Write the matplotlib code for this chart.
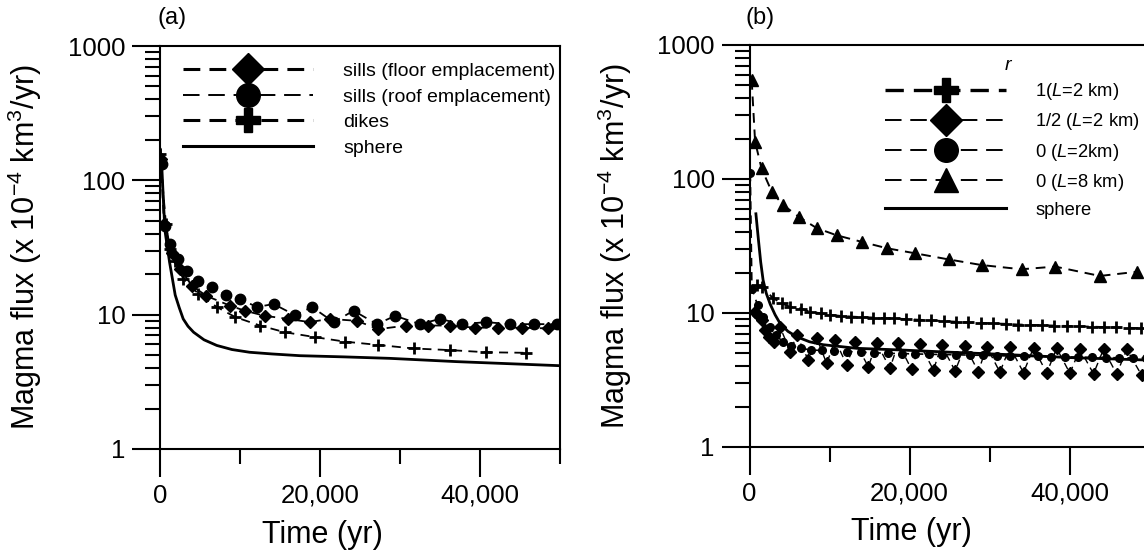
import numpy as np
import matplotlib
matplotlib.use("Agg")
import matplotlib.pyplot as plt
from matplotlib.lines import Line2D
from matplotlib.ticker import FixedLocator, FuncFormatter, LogLocator, NullFormatter

plt.rcParams["font.family"] = ["Liberation Sans", "DejaVu Sans"]
plt.rcParams["mathtext.fontset"] = "custom"
plt.rcParams["mathtext.rm"] = "Liberation Sans"
plt.rcParams["mathtext.it"] = "Liberation Sans:italic"

# ---- panel (a): sills / dikes / sphere ----
sphere_a_t = [0, 200, 600, 1200, 1900, 2400, 2900, 3500, 4200, 5500, 7100, 9000,
              11200, 14000, 17500, 23000, 28700, 37100, 50000]
sphere_a_v = [170, 136, 43, 24.5, 14, 11.3, 9.3, 8.2, 7.4, 6.5, 5.9, 5.5,
              5.25, 5.1, 4.95, 4.85, 4.73, 4.47, 4.17]

dikes_t = [0, 750, 1250, 1900, 2900, 4800, 7100, 9400, 12500, 15600, 19400,
           23100, 27300, 31700, 36200, 40800, 45800]
dikes_v = [157, 47, 31, 25, 18.5, 14.3, 11.4, 9.6, 8.3, 7.4, 6.8,
           6.3, 5.95, 5.6, 5.45, 5.25, 5.2]

roof_t = [200, 600, 1300, 2300, 3400, 4800, 6500, 8300, 10000, 12100, 14200, 16900,
          19000, 21700, 24200, 27100, 29400, 32500, 35000, 37700, 40800, 43700, 46700, 49600]
roof_v = [132, 46, 33.6, 26, 21.3, 17.9, 16, 14, 13.1, 11.4, 12.0, 9.9,
          11.4, 8.8, 10.7, 8.5, 9.8, 8.5, 9.3, 8.5, 8.8, 8.5, 8.5, 8.5]

floor_t = [100, 500, 1500, 2500, 4000, 5800, 8700, 10600, 13100, 16000, 18700,
           21200, 24600, 27300, 30800, 33500, 36200, 39400, 42300, 45200, 48500]
floor_v = [145, 47, 29, 21.9, 16.4, 13.8, 11.7, 10.7, 9.8, 9.3, 8.8,
           9.3, 9.0, 7.8, 8.3, 8.3, 8.3, 8.0, 8.0, 8.0, 7.9]

labels_a = ["sills (floor emplacement)", "sills (roof emplacement)", "dikes", "sphere"]

# ---- panel (b): different r ----
r1_t = [900, 1500, 2900, 4000, 5100, 6400, 7600, 8900, 10100, 11400, 12700, 14100,
        15400, 16800, 18100, 19600, 21200, 22700, 24300, 25800, 27300, 28900, 30400,
        32000, 33500, 35100, 36600, 38100, 39700, 41200, 42800, 44300, 45800, 47400, 48900]
r1_v = [16.1, 15.7, 13.0, 11.8, 11.1, 10.8, 10.2, 9.95, 9.7, 9.5, 9.4, 9.3,
        9.25, 9.15, 9.1, 9.0, 8.9, 8.8, 8.7, 8.6, 8.5, 8.45, 8.35,
        8.3, 8.2, 8.15, 8.1, 8.05, 8.0, 7.95, 7.9, 7.85, 7.8, 7.75, 7.7]

r_half_t = [700, 1100, 1500, 1900, 2400, 3000, 3800, 5100, 5900, 7350, 8400, 9650,
            10700, 12150, 13200, 14850, 15900, 17550, 18600, 20250, 21300, 23000, 24000,
            25700, 26950, 28600, 29650, 31300, 32550, 34250, 35500, 37150, 38400, 40050,
            41300, 43000, 44250, 45900, 47150, 49000]
r_half_v = [10.2, 9.7, 8.9, 7.5, 6.65, 6.1, 7.9, 5.15, 6.85, 4.45, 6.5, 4.2,
            6.3, 4.1, 6.1, 3.97, 6.0, 3.86, 5.94, 3.8, 5.87, 3.75, 5.77,
            3.7, 5.67, 3.65, 5.6, 3.62, 5.58, 3.59, 5.5, 3.57, 5.45, 3.55,
            5.38, 3.52, 5.36, 3.5, 5.35, 3.45]

r0_t = [100, 300, 1000, 1700, 2500, 3300, 4200, 5200, 6400, 7700, 9100, 10600, 12200,
        13900, 15600, 17300, 19000, 20700, 22400, 24100, 25800, 27500, 29200, 30900,
        32600, 34300, 36000, 37700, 39400, 41100, 42800, 44500, 46200, 47900, 49600]
r0_v = [111, 15.2, 11.5, 9.3, 7.8, 6.8, 6.1, 5.7, 5.45, 5.3, 5.25, 5.2, 5.15,
        5.1, 5.05, 5.0, 4.98, 4.95, 4.92, 4.9, 4.88, 4.85, 4.83, 4.8,
        4.78, 4.76, 4.74, 4.72, 4.7, 4.68, 4.66, 4.65, 4.63, 4.62, 4.6]

r0_L8_t = [270, 700, 1500, 2800, 4200, 6200, 8400, 10900, 14000, 17200, 20700,
           24900, 29000, 34000, 38200, 43800, 48400]
r0_L8_v = [548, 190, 120, 80, 64, 52, 43, 38, 34, 30.4, 27.9,
           25.1, 22.8, 21.2, 22.2, 18.9, 20.3]

sphere_b_t = [800, 1100, 1400, 1700, 2100, 2600, 3200, 3800, 4800, 5900, 7500, 9200,
              13400, 18800, 25000, 32000, 40000, 50000]
sphere_b_v = [55, 36, 24, 17.6, 14, 11.6, 9.7, 8.4, 7.3, 6.65, 6.1, 5.8,
              5.45, 5.3, 5.1, 4.9, 4.65, 4.45]

labels_b = [r"1($\mathit{L}$=2 km)", r"1/2 ($\mathit{L}$=2 km)", r"0 ($\mathit{L}$=2km)",
            r"0 ($\mathit{L}$=8 km)", "sphere"]


def style_axes(ax):
    ax.set_yscale("log")
    ax.set_xlim(0, 50000)
    ax.set_ylim(1, 1000)
    ax.set_xticks([0, 20000, 40000])
    ax.set_xticks([10000, 30000, 50000], minor=True)
    ax.xaxis.set_major_formatter(FuncFormatter(lambda v, p: f"{int(v):,}"))
    ax.yaxis.set_major_locator(FixedLocator([1, 10, 100, 1000]))
    ax.yaxis.set_major_formatter(FuncFormatter(lambda v, p: f"{v:g}"))
    ax.yaxis.set_minor_locator(LogLocator(base=10, subs=np.arange(2, 10)))
    ax.yaxis.set_minor_formatter(NullFormatter())
    ax.tick_params(which="major", direction="out", length=20, width=1.5,
                   labelsize=18.5, pad=5)
    ax.tick_params(which="minor", direction="out", length=10.5, width=1.5)
    for s in ax.spines.values():
        s.set_linewidth(1.5)
    ax.set_xlabel("Time (yr)", fontsize=22)
    ax.set_ylabel("Magma flux (x 10$^{-4}$ km$^{3}$/yr)", fontsize=22)
    ax.xaxis.set_label_coords(0.405, -0.175)
    ax.yaxis.set_label_coords(-0.29, 0.5)


fig = plt.figure(figsize=(11.44, 5.58), dpi=100)
ax_a = fig.add_axes([160 / 1144, 109 / 558, 400 / 1144, 403 / 558])
ax_b = fig.add_axes([749.5 / 1144, 111 / 558, 400 / 1144, 402 / 558])

dash = (0, (5, 3.5))
bold_dash = (0, (5.5, 3))
thin_dash = (0, (8.5, 4.5))

# panel (a)
ax_a.plot(sphere_a_t, sphere_a_v, color="k", lw=2.0)
ax_a.plot(dikes_t, dikes_v, color="k", ls=dash, lw=1.3, marker="+", ms=9, mew=2)
ax_a.plot(roof_t, roof_v, color="k", ls=dash, lw=1.3, marker="o", ms=7.5)
ax_a.plot(floor_t, floor_v, color="k", ls=dash, lw=1.3, marker="D", ms=6)
style_axes(ax_a)

handles_a = [
    Line2D([], [], color="k", ls=bold_dash, lw=2.2, marker="D", ms=16),
    Line2D([], [], color="k", ls=thin_dash, lw=1.4, marker="o", ms=17),
    Line2D([], [], color="k", ls=bold_dash, lw=2.2, marker="P", ms=17),
    Line2D([], [], color="k", lw=2.2),
]
ax_a.legend(handles_a, labels_a, loc="upper left", bbox_to_anchor=(0.0575, 0.96),
            frameon=False, fontsize=14, handlelength=6.7, handletextpad=1.55,
            labelspacing=0.42, borderpad=0, borderaxespad=0)

# panel (b)
ax_b.plot(sphere_b_t, sphere_b_v, color="k", lw=2.0)
ax_b.plot(r0_L8_t, r0_L8_v, color="k", ls=dash, lw=1.4, marker="^", ms=9)
ax_b.plot(r1_t, r1_v, color="k", ls=dash, lw=1.4, marker="+", ms=9, mew=2)
ax_b.plot(r_half_t, r_half_v, color="k", ls=dash, lw=1.0, marker="D", ms=6)
ax_b.plot(r0_t, r0_v, color="k", ls=dash, lw=1.2, marker="o", ms=5.5)
style_axes(ax_b)

handles_b = [
    Line2D([], [], color="k", ls=bold_dash, lw=2.4, marker="P", ms=17),
    Line2D([], [], color="k", ls=thin_dash, lw=1.4, marker="D", ms=16),
    Line2D([], [], color="k", ls=thin_dash, lw=1.4, marker="o", ms=17),
    Line2D([], [], color="k", ls=thin_dash, lw=1.4, marker="^", ms=17),
    Line2D([], [], color="k", lw=2.2),
]
ax_b.legend(handles_b, labels_b, loc="upper left", bbox_to_anchor=(0.339, 0.91),
            frameon=False, fontsize=13.2, handlelength=6.6, handletextpad=1.6,
            labelspacing=0.5, borderpad=0, borderaxespad=0)
ax_b.text(0.646, 0.95, "r", transform=ax_b.transAxes, fontsize=14,
          style="italic", ha="center", va="center")

fig.text(172 / 1144, 1 - 18 / 558, "(a)", fontsize=17, ha="center", va="center")
fig.text(760 / 1144, 1 - 18 / 558, "(b)", fontsize=17, ha="center", va="center")

fig.savefig("out.png", dpi=100)
